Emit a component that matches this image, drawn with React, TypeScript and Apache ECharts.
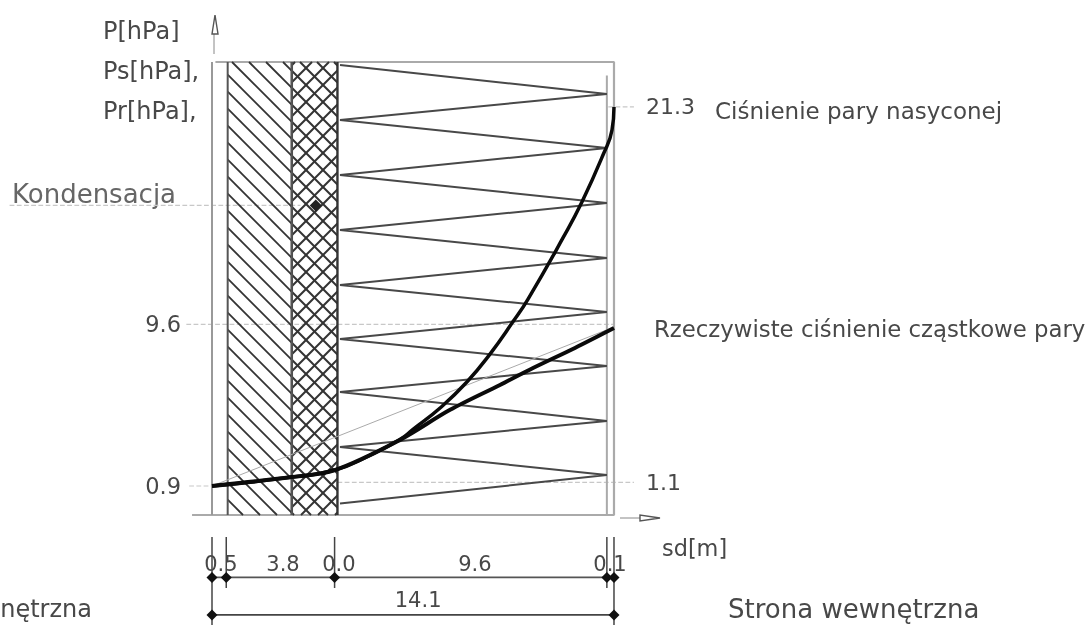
import React, { useEffect, useRef } from "react";
import * as echarts from "echarts";

const pxPerX = 28.51;
const xMin = -212 / pxPerX;
const xMax = (1092 - 212) / pxPerX;
const yMin = -0.66;
const yMax = 23.72;
const leftTicks = [0.9, 9.6];
const rightTicks = [1.1, 21.3];

const layerEdges = [0.55, 2.8, 4.4];
const actualPressure = [[0, 0.9], [2.81, 1.38], [4.31, 1.76], [6.59, 3.38], [8.35, 5.0], [10.1, 6.34], [11.26, 7.25], [12.73, 8.33], [14.1, 9.4]];
const saturationPressure = [[0, 0.9], [2.81, 1.38], [4.31, 1.76], [5.54, 2.55], [6.59, 3.4], [7.05, 3.95], [8.0, 5.1], [8.94, 6.5], [9.75, 8.0], [10.56, 9.75], [11.08, 10.95], [12.31, 14.25], [12.98, 16.2], [13.71, 18.7], [14.03, 20.06], [14.1, 21.3]];
const straightPressure = [[0, 0.9], [14.1, 9.46]];
const insulationZigzag = [[4.49, 23.56], [13.85, 22.0], [4.49, 20.6], [13.85, 19.09], [4.49, 17.64], [13.85, 16.13], [4.49, 14.68], [13.85, 13.17], [4.49, 11.72], [13.85, 10.26], [4.49, 8.81], [13.85, 7.36], [4.49, 5.96], [13.85, 4.4], [4.49, 3.0], [13.85, 1.49], [4.49, -0.04]];
const condensationPoint = [[3.64, 16.0]];

const guideLines = [
  [[-0.8, 0.9], [0.6, 0.9]],
  [[-0.9, 9.6], [14.1, 9.6]],
  [[-7.1, 16.0], [3.1, 16.0]],
  [[13.9, 21.3], [14.8, 21.3]],
  [[4.4, 1.1], [14.8, 1.1]],
];
const frameLine = [[0.12, 23.72], [14.1, 23.72], [14.1, -0.66], [-0.7, -0.66]];
const innerLine = [[13.85, 23.0], [13.85, -0.66]];
const axisVertical = [[0, 23.72], [0, -0.66]];

const dimLevelA = -4.02;
const dimLevelB = -6.04;
const dimStops = [0, 0.5, 4.3, 13.85, 14.1];
const dimTexts = ["0.5", "3.8", "0.0", "9.6", "0.1"];
const dimTextX = [0.31, 2.49, 4.45, 9.22, 13.96];
const dimTextY = -3.28;
const totalText = "14.1";
const totalTextPos = [7.23, -5.24];
const dimTicks = [
  [[0, -1.84], [0, -6.58]],
  [[0.5, -1.84], [0.5, -4.59]],
  [[4.3, -1.84], [4.3, -4.59]],
  [[13.85, -1.84], [13.85, -4.59]],
  [[14.1, -1.84], [14.1, -6.58]],
];

const FONT = '"DejaVu Sans"';
const TEXT = "#484848";

function hatchSegments(x0: number, x1: number, y0: number, y1: number, step: number, dir: 1 | -1) {
  const out: number[][] = [];
  const cs = dir === 1 ? [y0 - x1, y1 - x0] : [y0 + x0, y1 + x1];
  const start = Math.ceil(cs[0] / step) * step;
  for (let c = start; c <= cs[1]; c += step) {
    const pts: number[][] = [];
    for (const x of [x0, x1]) {
      const y = dir * x + c;
      if (y >= y0 && y <= y1) pts.push([x, y]);
    }
    for (const y of [y0, y1]) {
      const x = dir * (y - c);
      if (x > x0 && x < x1) pts.push([x, y]);
    }
    if (pts.length >= 2) out.push([pts[0][0], pts[0][1], pts[1][0], pts[1][1]]);
  }
  return out;
}

function lineSeries(data: number[][], color: string, width: number, z = 3, type = "solid", smooth: boolean | number = false) {
  return {
    type: "line", data, clip: false, silent: true, symbol: "none", smooth, z,
    lineStyle: { color, width, type },
  };
}

function label(text: string, x: number, y: number, fontSize: number, align = "left", color = TEXT) {
  return {
    type: "text", x, y,
    style: { text, fontSize, fontFamily: FONT, fill: color, align, verticalAlign: "middle" },
  };
}

function arrowGraphics() {
  const c = "#888";
  return [
    { type: "line", shape: { x1: 214, y1: 54, x2: 214, y2: 30 }, style: { stroke: c, lineWidth: 1 } },
    { type: "polygon", shape: { points: [[215, 15], [212, 34], [218, 34]] }, style: { fill: "#fff", stroke: "#555", lineWidth: 1.4 } },
    { type: "line", shape: { x1: 620, y1: 518, x2: 645, y2: 518 }, style: { stroke: c, lineWidth: 1 } },
    { type: "polygon", shape: { points: [[660, 518], [640, 515], [640, 521]] }, style: { fill: "#fff", stroke: "#555", lineWidth: 1.4 } },
  ];
}

export default function App() {
  const ref = useRef<HTMLDivElement>(null);
  useEffect(() => {
    document.body.style.margin = "0";
    document.body.style.background = "#fff";
    const chart = echarts.init(ref.current!, null, { renderer: "svg" });
    const dotted = dimStops.map((x) => [x, dimLevelA]).concat([[0, dimLevelB], [14.1, dimLevelB]]);
    const option: any = {
      animation: false,
      backgroundColor: "#fff",
      grid: { left: 0, top: 62, width: 1092, height: 453 },
      xAxis: { type: "value", min: xMin, max: xMax, show: false },
      yAxis: [
        {
          type: "value", min: yMin, max: yMax, position: "left", offset: -212, splitLine: { show: false },
          axisLine: { show: false }, axisTick: { show: false },
          axisLabel: { customValues: leftTicks, margin: 31, color: TEXT, fontSize: 22.5, fontFamily: FONT, formatter: (v: number) => v.toFixed(1) },
        },
        {
          type: "value", min: yMin, max: yMax, position: "right", offset: -478, splitLine: { show: false },
          axisLine: { show: false }, axisTick: { show: false },
          axisLabel: { customValues: rightTicks, margin: 32, color: TEXT, fontSize: 22, fontFamily: FONT, formatter: (v: number) => v.toFixed(1) },
        },
      ],
      series: [
        ...guideLines.map((g) => lineSeries(g, "#c8c8c8", 1.2, 1, "dashed")),
        lineSeries(frameLine, "#aaa", 2.2, 2),
        lineSeries(innerLine, "#aaa", 2, 2),
        lineSeries(axisVertical, "#999", 2, 2),
        {
          type: "custom", clip: false, silent: true, z: 3,
          data: [
            [layerEdges[0], layerEdges[1], 0],
            [layerEdges[1], layerEdges[2], 1],
          ],
          renderItem: (_p: any, api: any) => {
            const a = api.coord([api.value(0), yMax]);
            const b = api.coord([api.value(1), yMin]);
            const cross = api.value(2) === 1;
            const step = 17;
            const children: any[] = [];
            const dirs: (1 | -1)[] = cross ? [1, -1] : [1];
            for (const d of dirs) {
              for (const s of hatchSegments(a[0], b[0], a[1], b[1], step, d)) {
                children.push({ type: "line", shape: { x1: s[0], y1: s[1], x2: s[2], y2: s[3] }, style: { stroke: "#333", lineWidth: cross ? 2 : 1.8 } });
              }
            }
            children.push({ type: "line", shape: { x1: a[0], y1: a[1], x2: a[0], y2: b[1] }, style: { stroke: "#555", lineWidth: 2 } });
            children.push({ type: "line", shape: { x1: b[0], y1: a[1], x2: b[0], y2: b[1] }, style: { stroke: "#333", lineWidth: 2.4 } });
            return { type: "group", children };
          },
        },
        lineSeries(insulationZigzag, "#484848", 2, 4),
        lineSeries(straightPressure, "#aaa", 1, 5),
        lineSeries(saturationPressure, "#0a0a0a", 3.5, 6, "solid", 0.5),
        lineSeries(actualPressure, "#0a0a0a", 4, 6, "solid", 0.3),
        {
          type: "scatter", data: condensationPoint, symbol: "diamond", symbolSize: 12, silent: true, z: 7,
          itemStyle: { color: "#222", opacity: 1 },
        },
        lineSeries([[0, dimLevelA], [14.1, dimLevelA]], "#555", 1.8, 3),
        lineSeries([[0, dimLevelB], [14.1, dimLevelB]], "#444", 1.8, 3),
        ...dimTicks.map((t) => lineSeries(t, "#444", 1.5, 3)),
        {
          type: "scatter", data: dotted, symbol: "diamond", symbolSize: 11, clip: false, silent: true, z: 7,
          itemStyle: { color: "#111", opacity: 1 },
        },
        {
          type: "scatter", clip: false, silent: true, z: 8, symbolSize: 0,
          itemStyle: { opacity: 1 },
          data: dimTexts.map((t, i) => ({ value: [dimTextX[i], dimTextY], name: t })).concat([{ value: totalTextPos, name: totalText }]),
          label: { show: true, position: "inside", formatter: "{b}", color: TEXT, fontSize: 21, fontFamily: FONT, opacity: 1 },
        },
      ],
      graphic: [
        label("P[hPa]", 103, 31, 24),
        label("Ps[hPa],", 103, 71, 24),
        label("Pr[hPa],", 103, 111, 24),
        label("Kondensacja", 12, 194, 26, "left", "#666"),
        label("Ciśnienie pary nasyconej", 715, 111, 23),
        label("Rzeczywiste ciśnienie cząstkowe pary", 654, 329, 22.8),
        label("sd[m]", 662, 548, 22.4),
        label("Strona wewnętrzna", 728, 609, 26),
        label("nętrzna", 92, 609, 24, "right"),
        ...arrowGraphics(),
      ],
    };
    chart.setOption(option);
    return () => chart.dispose();
  }, []);
  return <div ref={ref} style={{ width: 1092, height: 625, filter: "blur(0.6px)" }} />;
}
